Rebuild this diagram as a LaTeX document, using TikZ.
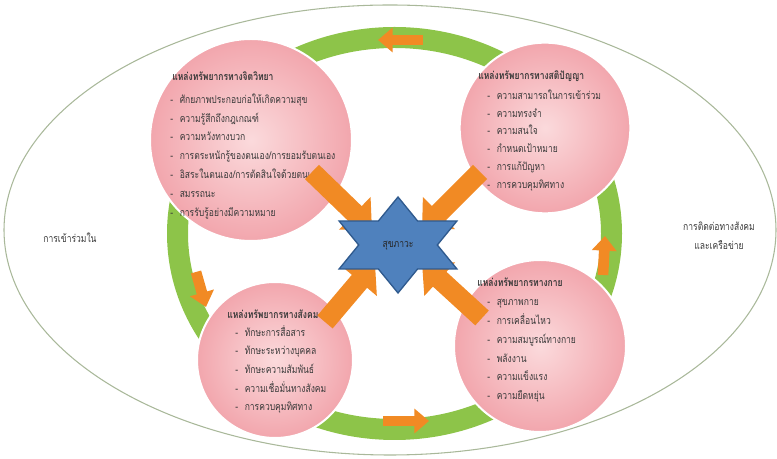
\documentclass[tikz,border=0pt]{standalone}
\usepackage{fontspec}
\newfontfamily\thai[Script=Thai,FakeStretch=0.8]{Loma}
\usetikzlibrary{arrows.meta}
\definecolor{ringgreen}{HTML}{8DC449}
\definecolor{orangeC}{HTML}{F18A24}
\definecolor{pinkin}{HTML}{FBDADC}
\definecolor{pinkout}{HTML}{F2A6AD}
\definecolor{starfill}{HTML}{4F81BD}
\definecolor{starline}{HTML}{2F5A8E}
\definecolor{txt}{HTML}{3A3A3A}
\definecolor{outerline}{HTML}{A9B89A}
\tikzset{
  bubble/.style={circle, inner color=pinkin, outer color=pinkout, draw=white, line width=1.5pt, inner sep=0pt},
  ttl/.style={anchor=base west, inner sep=0pt, text=txt, font=\thai\bfseries\fontsize{8}{10}\selectfont},
  itm/.style={anchor=base west, inner sep=0pt, text=txt, font=\thai\fontsize{8}{10}\selectfont},
  side/.style={align=center, inner sep=0pt, text=txt, font=\thai\fontsize{8}{14}\selectfont},
  bigarrow/.style={draw=orangeC, line width=15pt, -{Triangle[length=18pt,width=33pt]}},
  ringarrow/.style={draw=orangeC, line width=8pt, -{Triangle[length=11pt,width=18pt]}},
}
\begin{document}
\begin{tikzpicture}[x=0.75pt,y=0.75pt]
\useasboundingbox (0,0) rectangle (777,459);
% outer ellipse
\draw[outerline, line width=0.8pt] (390,229) ellipse [x radius=386, y radius=225];
% green ring
\fill[ringgreen, even odd rule] (394.5,225.5) ellipse [x radius=227.5, y radius=206.5]
  (394.5,225.5) ellipse [x radius=206.5, y radius=185.5];
% ring arrows
\coordinate (ta1) at (423,419); \coordinate (ta2) at (378,419);
\coordinate (la1) at (196,187); \coordinate (la2) at (206,152);
\coordinate (ba1) at (383,38);  \coordinate (ba2) at (429,38);
\coordinate (ra1) at (603,184); \coordinate (ra2) at (605,223);
\draw[ringarrow] (ta1) -- (ta2);
\draw[ringarrow] (la1) -- (la2);
\draw[ringarrow] (ba1) -- (ba2);
\draw[ringarrow] (ra1) -- (ra2);
% circles
\node[bubble, minimum size=151.5pt] (psy) at (251,319) {};
\node[bubble, minimum size=128pt] (cog) at (545,331) {};
\node[bubble, minimum size=129pt] (phy) at (540,113) {};
\node[bubble, minimum size=117pt] (soc) at (275,99) {};
% side labels
\node[side] (left) at (70,221) {การเข้าร่วมใน};
\node[side] (right) at (719,223) {การติดต่อทางสังคม\\และเครือข่าย};
% top-left texts
\node[ttl] (psyT) at (172,378) {แหล่งทรัพยากรทางจิตวิทยา};
\foreach \t [count=\i] in {ศักยภาพประกอบก่อให้เกิดความสุข, ความรู้สึกถึงกฎเกณฑ์, ความหวังทางบวก, การตระหนักรู้ของตนเอง/การยอมรับตนเอง, อิสระในตนเอง/การตัดสินใจด้วยตนเอง, สมรรถนะ, การรับรู้อย่างมีความหมาย}
  \node[itm] (psy-\i) at (170,{374.5-18.8*\i}) {-\hspace{5pt}\t};
% top-right texts
\node[ttl] (cogT) at (478,379) {แหล่งทรัพยากรทางสติปัญญา};
\foreach \t [count=\i] in {ความสามารถในการเข้าร่วม, ความทรงจำ, ความสนใจ, กำหนดเป้าหมาย, การแก้ปัญหา, การควบคุมทิศทาง}
  \node[itm] (cog-\i) at (487,{377.5-17.8*\i}) {-\hspace{5pt}\t};
% bottom-right texts
\node[ttl] (phyT) at (477,172) {แหล่งทรัพยากรทางกาย};
\foreach \t [count=\i] in {สุขภาพกาย, การเคลื่อนไหว, ความสมบูรณ์ทางกาย, พลังงาน, ความแข็งแรง, ความยืดหยุ่น}
  \node[itm] (phy-\i) at (487,{172-18.8*\i}) {-\hspace{5pt}\t};
% bottom-left texts
\node[ttl] (socT) at (227,140) {แหล่งทรัพยากรทางสังคม};
\foreach \t [count=\i] in {ทักษะการสื่อสาร, ทักษะระหว่างบุคคล, ทักษะความสัมพันธ์, ความเชื่อมั่นทางสังคม, การควบคุมทิศทาง}
  \node[itm] (soc-\i) at (235,{141.5-18.7*\i}) {-\hspace{5pt}\t};
% central arrows
\coordinate (a1) at (312,287); \coordinate (b1) at (372,229);
\coordinate (a2) at (480,287); \coordinate (b2) at (422,229);
\coordinate (a3) at (325,137); \coordinate (b3) at (375,196);
\coordinate (a4) at (482,141); \coordinate (b4) at (422,196);
\draw[bigarrow] (a1) -- (b1);
\draw[bigarrow] (a2) -- (b2);
\draw[bigarrow] (a3) -- (b3);
\draw[bigarrow] (a4) -- (b4);
% star
\filldraw[fill=starfill, draw=starline, line width=1pt, line join=miter]
  (398,262) -- (378.4,238) -- (339.1,238) -- (358.7,214) -- (339.1,190) -- (378.4,190)
  -- (398,166) -- (417.6,190) -- (456.9,190) -- (437.3,214) -- (456.9,238) -- (417.6,238) -- cycle;
\node[itm, anchor=base, text=black!85] (star) at (398,211) {สุขภาวะ};
\end{tikzpicture}
\end{document}
